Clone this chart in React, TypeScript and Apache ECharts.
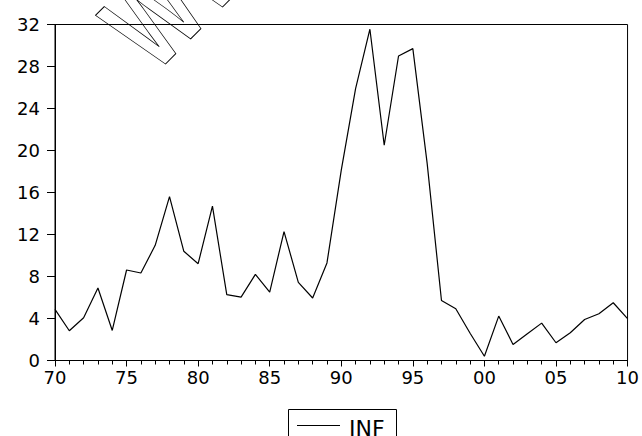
import React, { useEffect, useRef } from "react";
import * as echarts from "echarts";

const years: number[] = [
  1970, 1971, 1972, 1973, 1974, 1975, 1976, 1977, 1978, 1979,
  1980, 1981, 1982, 1983, 1984, 1985, 1986, 1987, 1988, 1989,
  1990, 1991, 1992, 1993, 1994, 1995, 1996, 1997, 1998, 1999,
  2000, 2001, 2002, 2003, 2004, 2005, 2006, 2007, 2008, 2009, 2010,
];
const inf: number[] = [
  4.87, 2.83, 4.07, 6.9, 2.86, 8.62, 8.33, 10.97, 15.6, 10.4,
  9.22, 14.7, 6.27, 6.04, 8.2, 6.52, 12.28, 7.44, 5.95, 9.29,
  18.13, 25.9, 31.55, 20.5, 29.0, 29.7, 18.77, 5.72, 4.93, 2.6,
  0.4, 4.23, 1.53, 2.54, 3.56, 1.69, 2.64, 3.91, 4.45, 5.5, 3.98,
];
const seriesName = "INF";
const watermark = "WWW";

export default function App() {
  const ref = useRef<HTMLDivElement>(null);
  useEffect(() => {
    if (!ref.current) return;
    const chart = echarts.init(ref.current, undefined, { renderer: "svg" });
    const font = "DejaVu Sans, Verdana, sans-serif";
    chart.setOption({
      animation: false,
      backgroundColor: "#fff",
      grid: {
        left: 55,
        right: 12,
        top: 24.5,
        bottom: 75.5,
        show: true,
        borderColor: "#000",
        borderWidth: 1,
        backgroundColor: "transparent",
      },
      xAxis: {
        type: "value",
        min: 1970,
        max: 2010,
        interval: 5,
        axisLine: { show: true, onZero: false, lineStyle: { color: "#000", width: 1 } },
        axisTick: { show: true, length: 6, lineStyle: { color: "#000" } },
        minorTick: { show: true, splitNumber: 5, length: 4, lineStyle: { color: "#000" } },
        splitLine: { show: false },
        axisLabel: {
          color: "#000",
          fontSize: 18,
          fontFamily: font,
          margin: 8,
          formatter: (v: number) => String(v % 100).padStart(2, "0"),
        },
      },
      yAxis: {
        type: "value",
        min: 0,
        max: 32,
        interval: 4,
        axisLine: { show: true, lineStyle: { color: "#000", width: 1 } },
        axisTick: { show: true, length: 8, lineStyle: { color: "#000" } },
        splitLine: { show: false },
        axisLabel: {
          color: "#000",
          fontSize: 18,
          fontFamily: font,
          margin: 15,
        },
      },
      legend: { show: false },
      graphic: [
        {
          type: "text",
          x: 168,
          y: 88,
          rotation: Math.PI / 4,
          scaleX: 0.7,
          silent: true,
          style: {
            text: watermark,
            fontSize: 122,
            fontWeight: "bold",
            fontFamily: "Liberation Sans, Arial, sans-serif",
            fill: "transparent",
            stroke: "#000",
            lineWidth: 1,
            align: "left",
            verticalAlign: "bottom",
          },
        },
        {
          type: "rect",
          silent: true,
          shape: { x: 288.5, y: 409.5, width: 108, height: 40 },
          style: { fill: "#fff", stroke: "#000", lineWidth: 1 },
        },
        {
          type: "line",
          silent: true,
          shape: { x1: 297, y1: 425.5, x2: 340, y2: 425.5 },
          style: { stroke: "#000", lineWidth: 1 },
        },
        {
          type: "text",
          silent: true,
          x: 349,
          y: 428,
          style: {
            text: seriesName,
            fontSize: 22,
            fontFamily: font,
            fill: "#000",
            align: "left",
            verticalAlign: "middle",
          },
        },
      ],
      series: [
        {
          name: seriesName,
          type: "line",
          data: years.map((y, i) => [y, inf[i]]),
          symbol: "none",
          lineStyle: { color: "#000", width: 1.2 },
          itemStyle: { color: "#000" },
        },
      ],
    });
    return () => chart.dispose();
  }, []);
  return <div ref={ref} style={{ width: 642, height: 436, position: "absolute", left: 0, top: 0 }} />;
}
